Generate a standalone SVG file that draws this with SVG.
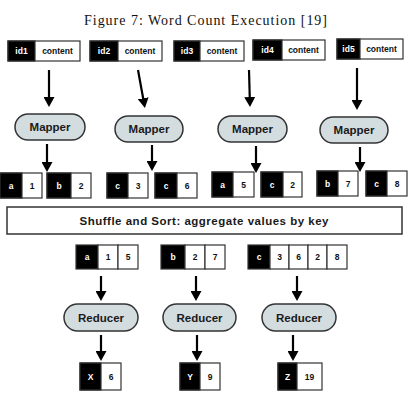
<svg xmlns="http://www.w3.org/2000/svg" width="408" height="408" viewBox="0 0 408 408">
<defs>
<marker id="ah" markerUnits="userSpaceOnUse" markerWidth="10" markerHeight="11" refX="2" refY="5.5" orient="auto">
<path d="M0,0 L10,5.5 L0,11 z" fill="#000"/>
</marker>
<style>
.k{fill:#000;stroke:#333;stroke-width:1.2}
.w{fill:#fff;stroke:#333;stroke-width:1.2}
.pill{fill:#d3dcdf;stroke:#333;stroke-width:1.5}
.kt{fill:#fff;font-family:"Liberation Sans",Arial,sans-serif;font-weight:bold;font-size:8.5px;text-anchor:middle}
.wt{fill:#111;font-family:"Liberation Sans",Arial,sans-serif;font-weight:bold;font-size:8.5px;text-anchor:middle}
.pt{fill:#1a1a1a;font-family:"Liberation Sans",Arial,sans-serif;font-weight:bold;font-size:11.5px;text-anchor:middle}
.ar{stroke:#000;stroke-width:2.2;fill:none;marker-end:url(#ah)}
</style>
</defs>
<rect width="408" height="408" fill="#fff"/>
<text x="205.5" y="25" font-family="'Liberation Serif','Times New Roman',serif" font-size="14" text-anchor="middle" textLength="243" fill="#111">Figure 7: Word Count Execution [19]</text>

<g id="in1"><rect class="w" x="8" y="41" width="72" height="20"/><rect class="k" x="8" y="41" width="27" height="20"/><text class="kt" x="21.5" y="54">id1</text><text class="wt" x="57.5" y="54">content</text></g>
<g id="in2"><rect class="w" x="90" y="41" width="72" height="20"/><rect class="k" x="90" y="41" width="28" height="20"/><text class="kt" x="104" y="54">id2</text><text class="wt" x="140" y="54">content</text></g>
<g id="in3"><rect class="w" x="174" y="41" width="70" height="20"/><rect class="k" x="174" y="41" width="26" height="20"/><text class="kt" x="187" y="54">id3</text><text class="wt" x="222" y="54">content</text></g>
<g id="in4"><rect class="w" x="253" y="40" width="72" height="20"/><rect class="k" x="253" y="40" width="29" height="20"/><text class="kt" x="267.5" y="53">id4</text><text class="wt" x="303.5" y="53">content</text></g>
<g id="in5"><rect class="w" x="337" y="39" width="66" height="20"/><rect class="k" x="337" y="39" width="23" height="20"/><text class="kt" x="348.5" y="52">id5</text><text class="wt" x="381.5" y="52">content</text></g>

<g id="mapper1"><rect class="pill" x="15" y="114" width="70" height="26" rx="13"/><text class="pt" x="50" y="131">Mapper</text></g>
<g id="mapper2"><rect class="pill" x="115" y="116" width="68" height="26" rx="13"/><text class="pt" x="149" y="133">Mapper</text></g>
<g id="mapper3"><rect class="pill" x="218" y="116" width="69" height="26" rx="13"/><text class="pt" x="252.5" y="133">Mapper</text></g>
<g id="mapper4"><rect class="pill" x="320" y="117" width="68" height="26" rx="13"/><text class="pt" x="354" y="134">Mapper</text></g>

<g id="o_a1"><rect class="w" x="0" y="173" width="42" height="25"/><rect class="k" x="0" y="173" width="22" height="25"/><text class="kt" x="11" y="189">a</text><text class="wt" x="32" y="189">1</text></g>
<g id="o_b2"><rect class="w" x="47" y="173" width="44" height="25"/><rect class="k" x="47" y="173" width="24" height="25"/><text class="kt" x="59" y="189">b</text><text class="wt" x="81" y="189">2</text></g>
<g id="o_c3"><rect class="w" x="107" y="173" width="41" height="25"/><rect class="k" x="107" y="173" width="21" height="25"/><text class="kt" x="117.5" y="189">c</text><text class="wt" x="138" y="189">3</text></g>
<g id="o_c6"><rect class="w" x="155" y="173" width="42" height="25"/><rect class="k" x="155" y="173" width="22" height="25"/><text class="kt" x="166" y="189">c</text><text class="wt" x="187" y="189">6</text></g>
<g id="o_a5"><rect class="w" x="212" y="172" width="42" height="25"/><rect class="k" x="212" y="172" width="21" height="25"/><text class="kt" x="222.5" y="188">a</text><text class="wt" x="243.5" y="188">5</text></g>
<g id="o_c2"><rect class="w" x="261" y="172" width="41" height="25"/><rect class="k" x="261" y="172" width="22" height="25"/><text class="kt" x="272" y="188">c</text><text class="wt" x="292.5" y="188">2</text></g>
<g id="o_b7"><rect class="w" x="317" y="171" width="41" height="25"/><rect class="k" x="317" y="171" width="21" height="25"/><text class="kt" x="327.5" y="187">b</text><text class="wt" x="348" y="187">7</text></g>
<g id="o_c8"><rect class="w" x="366" y="171" width="41" height="25"/><rect class="k" x="366" y="171" width="21" height="25"/><text class="kt" x="376.5" y="187">c</text><text class="wt" x="397" y="187">8</text></g>

<g id="shuffle"><rect x="7" y="207" width="395" height="27" fill="#fff" stroke="#333" stroke-width="1.5"/><text class="pt" x="204" y="225" textLength="249">Shuffle and Sort: aggregate values by key</text></g>

<g id="r_a"><rect class="k" x="76" y="245" width="22" height="24"/><rect class="w" x="98" y="245" width="20" height="24"/><rect class="w" x="118" y="245" width="20" height="24"/><text class="kt" x="87" y="260">a</text><text class="wt" x="108" y="260">1</text><text class="wt" x="128" y="260">5</text></g>
<g id="r_b"><rect class="k" x="161" y="245" width="24" height="24"/><rect class="w" x="185" y="245" width="20" height="24"/><rect class="w" x="205" y="245" width="20" height="24"/><text class="kt" x="173" y="260">b</text><text class="wt" x="195" y="260">2</text><text class="wt" x="215" y="260">7</text></g>
<g id="r_c"><rect class="k" x="248" y="245" width="22" height="24"/><rect class="w" x="270" y="245" width="19" height="24"/><rect class="w" x="289" y="245" width="19" height="24"/><rect class="w" x="308" y="245" width="19" height="24"/><rect class="w" x="327" y="245" width="20" height="24"/><text class="kt" x="259" y="260">c</text><text class="wt" x="279.5" y="260">3</text><text class="wt" x="298.5" y="260">6</text><text class="wt" x="317.5" y="260">2</text><text class="wt" x="337" y="260">8</text></g>

<g id="reducer1"><rect class="pill" x="64" y="304" width="74" height="27" rx="13.5"/><text class="pt" x="101" y="322">Reducer</text></g>
<g id="reducer2"><rect class="pill" x="163" y="304" width="73" height="27" rx="13.5"/><text class="pt" x="199.5" y="322">Reducer</text></g>
<g id="reducer3"><rect class="pill" x="262" y="304" width="74" height="27" rx="13.5"/><text class="pt" x="299" y="322">Reducer</text></g>

<g id="f_x"><rect class="w" x="80" y="363" width="41" height="27"/><rect class="k" x="80" y="363" width="21" height="27"/><text class="kt" x="90.5" y="380">X</text><text class="wt" x="111" y="380">6</text></g>
<g id="f_y"><rect class="w" x="180" y="363" width="40" height="27"/><rect class="k" x="180" y="363" width="20" height="27"/><text class="kt" x="190" y="380">Y</text><text class="wt" x="210" y="380">9</text></g>
<g id="f_z"><rect class="w" x="278" y="363" width="44" height="27"/><rect class="k" x="278" y="363" width="19" height="27"/><text class="kt" x="287.5" y="380">Z</text><text class="wt" x="309.5" y="380">19</text></g>

<g id="connectors">
<line class="ar" x1="49" y1="70" x2="49" y2="99"/>
<line class="ar" x1="138" y1="70" x2="143.5" y2="100.2"/>
<line class="ar" x1="249" y1="70" x2="249.8" y2="99"/>
<line class="ar" x1="357" y1="68" x2="357" y2="102"/>
<line class="ar" x1="47" y1="144" x2="47" y2="164"/>
<line class="ar" x1="152" y1="145" x2="152" y2="163"/>
<line class="ar" x1="256" y1="146" x2="256" y2="165"/>
<line class="ar" x1="360" y1="147" x2="360" y2="164"/>
<line class="ar" x1="101" y1="276" x2="101" y2="293"/>
<line class="ar" x1="196" y1="276" x2="196" y2="293"/>
<line class="ar" x1="297" y1="276" x2="297" y2="293"/>
<line class="ar" x1="101" y1="335" x2="101" y2="353"/>
<line class="ar" x1="197" y1="335" x2="197" y2="353"/>
<line class="ar" x1="293" y1="335" x2="293" y2="353"/>
</g>
</svg>
